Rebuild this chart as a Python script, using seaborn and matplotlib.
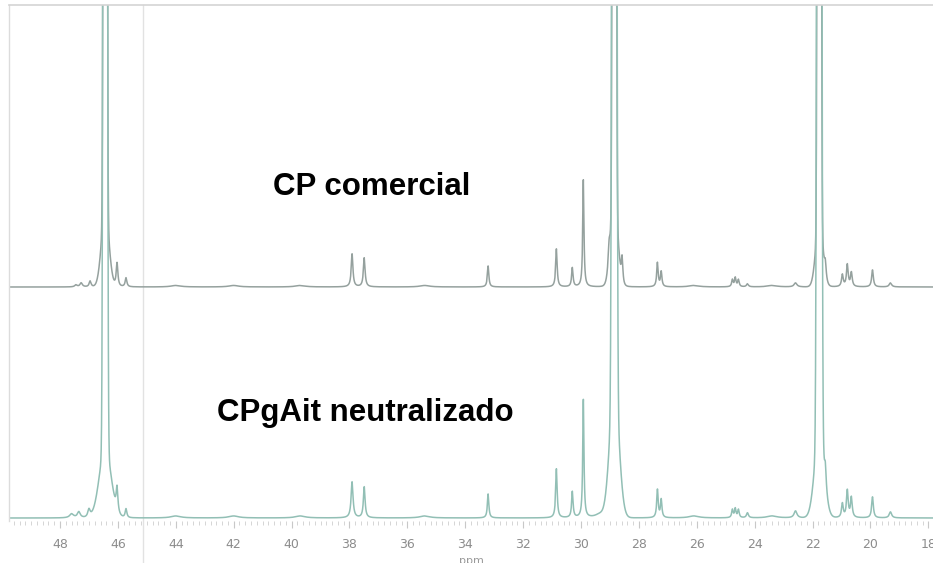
import numpy as np
import pandas as pd
import matplotlib
matplotlib.use("Agg")
import matplotlib.pyplot as plt
from matplotlib.ticker import MultipleLocator
import seaborn as sns

# 13C NMR peak tables: chemical shift (ppm), intensity, half-width (ppm)
# Sharp Lorentzian lines
cp_ppm = [47.45, 47.27, 46.96, 46.03, 45.72, 37.91, 37.49, 33.21, 30.85,
          30.30, 29.92, 29.03, 28.58, 27.36, 27.23, 24.77, 24.67, 24.56,
          24.25, 22.59, 21.56, 20.97, 20.80, 20.66, 19.93, 19.31,
          44.0, 42.0, 39.7, 35.4, 26.1, 23.4]
cp_int = [2, 4, 6, 24, 9, 33, 29, 21, 38,
          19, 107, 20, 25, 24, 15, 7, 9, 7,
          3, 4, 14, 12, 22, 14, 17, 4,
          1.5, 1.5, 1.5, 1.5, 1.5, 1.5]
cp_hw = [0.05, 0.05, 0.04, 0.035, 0.035, 0.035, 0.035, 0.03, 0.03,
         0.03, 0.025, 0.04, 0.03, 0.03, 0.03, 0.03, 0.03, 0.03,
         0.04, 0.06, 0.035, 0.035, 0.035, 0.035, 0.035, 0.05,
         0.2, 0.2, 0.2, 0.2, 0.2, 0.2]
# Main resonances and their broad feet (Gaussian: centre, height, sigma)
cp_main_ppm = [46.44, 46.44, 28.85, 28.85, 21.77, 21.77]
cp_main_int = [5000, 75, 5000, 85, 5000, 65]
cp_main_sig = [0.035, 0.13, 0.035, 0.12, 0.035, 0.12]

cpg_ppm = [47.6, 47.35, 47.0, 46.03, 45.72, 37.91, 37.49, 33.21, 30.85,
           30.30, 29.92, 29.35, 27.36, 27.23, 24.77, 24.67, 24.56, 24.25,
           22.59, 21.56, 20.97, 20.80, 20.66, 19.93, 19.31,
           44.0, 42.0, 39.7, 35.4, 26.1, 23.4]
cpg_int = [4, 6, 8, 24, 9, 36, 31, 24, 49,
           26, 118, 4, 28, 18, 8, 9, 8, 5,
           7, 20, 14, 27, 20, 21, 6,
           2, 2, 2, 2, 2, 2]
cpg_hw = [0.08, 0.06, 0.05, 0.035, 0.035, 0.04, 0.035, 0.03, 0.03,
          0.03, 0.025, 0.2, 0.03, 0.03, 0.03, 0.03, 0.03, 0.04,
          0.06, 0.035, 0.035, 0.035, 0.035, 0.035, 0.05,
          0.2, 0.2, 0.2, 0.2, 0.2, 0.2]
cpg_main_ppm = [46.44, 46.44, 28.85, 28.85, 21.77, 21.77]
cpg_main_int = [5000, 70, 5000, 130, 5000, 85]
cpg_main_sig = [0.04, 0.2, 0.045, 0.16, 0.045, 0.16]

spectrum_names = ["CP comercial", "CPgAit neutralizado"]
stack_offset = 231
x_ticks = [48, 46, 44, 42, 40, 38, 36, 34, 32, 30, 28, 26, 24, 22, 20, 18]


def build_spectrum(ppm_axis, centres, heights, widths, g_c, g_h, g_s):
    y = np.zeros_like(ppm_axis)
    for c, h, w in zip(centres, heights, widths):
        y += h * w ** 2 / ((ppm_axis - c) ** 2 + w ** 2)
    for c, h, s in zip(g_c, g_h, g_s):
        y += h * np.exp(-((ppm_axis - c) ** 2) / (2 * s ** 2))
    return y


ppm = np.linspace(17.5, 50.0, 16251)
top = build_spectrum(ppm, cp_ppm, cp_int, cp_hw,
                     cp_main_ppm, cp_main_int, cp_main_sig) + stack_offset
bottom = build_spectrum(ppm, cpg_ppm, cpg_int, cpg_hw,
                        cpg_main_ppm, cpg_main_int, cpg_main_sig)

df = pd.concat([
    pd.DataFrame({"ppm": ppm, "intensity": top, "sample": spectrum_names[0]}),
    pd.DataFrame({"ppm": ppm, "intensity": bottom, "sample": spectrum_names[1]}),
])

sns.set_theme(style="white")
plt.rcParams["font.family"] = ["DejaVu Sans"]

fig = plt.figure(figsize=(9.33, 5.63), dpi=100)
ax = fig.add_axes([9 / 933, 42 / 563, 924 / 933, 516 / 563])

sns.lineplot(data=df, x="ppm", y="intensity", hue="sample", sort=False,
             estimator=None, palette=["#95a19e", "#92bfb5"], linewidth=1.1,
             legend=False, ax=ax)

ax.set_xlim(49.763, 17.84)
ax.set_ylim(-3, 513)
ax.set_yticks([])
ax.set_ylabel("")
ax.set_xticks(x_ticks)
ax.xaxis.set_minor_locator(MultipleLocator(0.2))
ax.tick_params(axis="x", which="major", bottom=True, direction="out", length=5,
               width=0.8, color="#c8c8c8", labelsize=9, labelcolor="#8c8c8c", pad=7)
ax.tick_params(axis="x", which="minor", bottom=True, direction="out", length=3,
               width=0.6, color="#cfcfcf")
ax.set_xlabel("ppm", fontsize=8, color="#9a9a9a", labelpad=4)

for side in ["right", "bottom"]:
    ax.spines[side].set_visible(False)
ax.spines["top"].set_color("#d4d4d4")
ax.spines["left"].set_color("#dcdcdc")
ax.spines["top"].set_linewidth(1.2)
ax.spines["left"].set_linewidth(1.0)

ax.axvline(45.13, ymin=-0.09, ymax=1.0, color="#e2e2e2", lw=1.0, clip_on=False, zorder=0)

ax.text(37.22, 331, spectrum_names[0], fontsize=22.5, fontweight="bold",
        family=["Liberation Sans", "DejaVu Sans"], ha="center", va="center", color="black")
ax.text(37.46, 105, spectrum_names[1], fontsize=22.5, fontweight="bold",
        family=["Liberation Sans", "DejaVu Sans"], ha="center", va="center", color="black")

fig.savefig("out.png", dpi=100, facecolor="white")
